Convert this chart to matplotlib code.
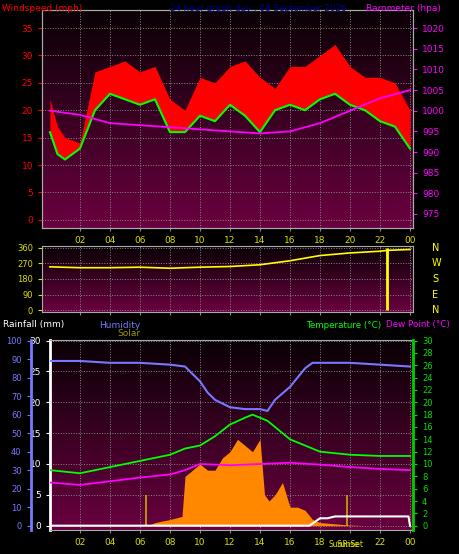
import numpy as np
import matplotlib
matplotlib.use('Agg')
import matplotlib.pyplot as plt

# ---- data ----
hours = [0, 0.5, 1, 2, 3, 4, 5, 6, 7, 8, 9, 10, 11, 12, 13, 14, 15, 16, 17, 18, 19, 20, 21, 22, 23, 24]
wind_gust = [22, 17, 15, 14, 27, 28, 29, 27, 28, 22, 20, 26, 25, 28, 29, 26, 24, 28, 28, 30, 32, 28, 26, 26, 25, 20]
wind_avg = [16, 12, 11, 13, 20, 23, 22, 21, 22, 16, 16, 19, 18, 21, 19, 16, 20, 21, 20, 22, 23, 21, 20, 18, 17, 13]
baro_hours = [0, 2, 4, 6, 8, 10, 12, 14, 16, 18, 20, 22, 24]
baro = [1000, 999, 997, 996.5, 996, 995.5, 995, 994.5, 995, 997, 1000, 1003, 1005]

dir_hours = [0, 2, 4, 6, 8, 10, 12, 14, 16, 18, 20, 22, 22.5, 24]
wind_dir = [250, 245, 245, 248, 242, 248, 252, 262, 285, 315, 330, 340, 345, 350]

hum_hours = [0, 2, 4, 6, 8, 9, 10, 10.5, 11, 12, 13, 14, 14.5, 15, 16, 17, 17.5, 18, 20, 22, 24]
humidity = [89, 89, 88, 88, 87, 86, 78, 72, 68, 64, 63, 63, 62, 68, 75, 85, 88, 88, 88, 87, 86]
temp_hours = [0, 2, 4, 6, 8, 9, 10, 11, 12, 13, 13.5, 14.5, 15, 16, 17, 18, 20, 22, 24]
temperature = [9, 8.5, 9.5, 10.5, 11.5, 12.5, 13, 14.5, 16.4, 17.5, 18, 17, 16, 14, 13, 12, 11.5, 11.3, 11.3]
dew_hours = [0, 2, 4, 6, 8, 9, 10, 12, 14, 16, 18, 20, 22, 24]
dewpoint = [7, 6.6, 7.2, 7.8, 8.3, 9, 10, 9.8, 10, 10.2, 9.9, 9.5, 9.2, 9]
solar_hours = [6.5, 7, 8, 8.8, 9, 9.5, 10, 10.5, 11, 11.5, 12, 12.5, 13, 13.5, 14, 14.3, 14.6, 15, 15.5, 16, 16.5, 17, 17.5, 18, 19, 20, 21]
solar = [0, 0.5, 1, 1.5, 8, 9, 10, 9, 9, 11, 12, 14, 13, 12, 14, 5, 4, 5, 7, 3, 3, 2.5, 1, 0.5, 0.3, 0.1, 0]
rain_hours = [0, 17.3, 18, 18.5, 19, 23.9, 24]
rainfall = [0, 0, 1.2, 1.2, 1.5, 1.5, 0]

xticks = [2, 4, 6, 8, 10, 12, 14, 16, 18, 20, 22, 24]
xlabels = ['02', '04', '06', '08', '10', '12', '14', '16', '18', '20', '22', '00']

BG = '#000000'
fig = plt.figure(figsize=(4.6, 5.54), dpi=100, facecolor=BG)
plt.rcParams['font.family'] = 'DejaVu Sans'
fs = 6.5
grad = matplotlib.colors.LinearSegmentedColormap.from_list('g', ['#0a0005', '#6a0040'])


def panel(rect, xl, yl):
    ax = fig.add_axes(rect)
    ax.imshow(np.linspace(0, 1, 100)[:, None], aspect='auto', cmap=grad,
              extent=[xl[0], xl[1], yl[0], yl[1]], zorder=0)
    ax.set_xlim(*xl); ax.set_ylim(*yl)
    ax.grid(color='#888888', ls=':', lw=0.7)
    for s in ax.spines.values():
        s.set_color('#aaaaaa')
    ax.set_xticks(xticks); ax.set_xticklabels(xlabels, fontsize=fs)
    ax.tick_params(axis='x', colors='#888888', labelcolor='#dddd00', length=2)
    return ax


# ---- top panel ----
ax1 = panel([42/460, 1-228/554, 371/460, 218/554], (-0.53, 24.2), (-1.5, 38.3))
ax1.set_yticks(range(0, 36, 5))
ax1.tick_params(axis='y', colors='red', labelsize=fs, length=3)
ax1.fill_between(hours, wind_avg, wind_gust, color='red', zorder=2, lw=0)
ax1.plot(hours, wind_avg, color='#00ff00', lw=1.5, zorder=3)
ax1b = ax1.twinx()
ax1b.set_ylim(971.6, 1024.4)
ax1b.set_yticks(range(975, 1021, 5))
ax1b.tick_params(axis='y', colors='#ff00ff', labelsize=fs, length=3)
ax1b.plot(baro_hours, baro, color='#ff00ff', lw=1.3)
for s in ax1b.spines.values():
    s.set_color('#aaaaaa')
fig.text(0.005, 0.993, 'Windspeed (mph)', color='red', fontsize=6.5, va='top')
fig.text(0.37, 0.993, '24 hour graph day : 08 September 2026', color='#000090', fontsize=6.3, va='top')
fig.text(0.795, 0.993, 'Barometer (hpa)', color='#ff00ff', fontsize=6.5, va='top')

# ---- middle panel: wind direction ----
ax2 = panel([42/460, 1-312/554, 371/460, 66/554], (-0.53, 24.2), (-10, 370))
ax2.set_xticklabels([])
ax2.set_yticks(range(0, 361, 90))
ax2.tick_params(axis='y', colors='#dddd00', labelsize=fs - 0.5, length=3)
ax2.plot(dir_hours, wind_dir, color='yellow', lw=1.2)
ax2.vlines(22.5, 0, 360, color='yellow', lw=2)
for v, c in zip([360, 270, 180, 90, 0], 'NWSEN'):
    fig.text(432/460, ax2.transData.transform((0, v))[1] / 554, c, color='yellow', fontsize=7, va='center')

# ---- bottom panel ----
ax3 = panel([50/460, 1-530/554, 363/460, 190/554], (0, 24.2), (-0.7, 30.1))
ax3.set_xticklabels([l if l != '20' else '' for l in xlabels], fontsize=fs)
ax3.spines['left'].set_color('white'); ax3.spines['left'].set_linewidth(2)
ax3.set_yticks([0, 5, 10, 15, 20, 25, 30])
ax3.tick_params(axis='y', colors='white', labelsize=fs, length=3)
ax3.fill_between(solar_hours, 0, solar, color='#ff8800', zorder=2, lw=0)
ax3.plot(rain_hours, rainfall, color='white', lw=1.5, zorder=4)
ax3.vlines([6.4, 19.8], 0, 5, color='#ccaa00', lw=1.2, zorder=3)
ax3.text(19.6, -2.3, 'SunRise', color='#dddd00', fontsize=5.5, ha='center', va='top')
ax3.text(20.0, -2.3, 'SunSet', color='#dddd00', fontsize=5.5, ha='center', va='top')
ax3.plot(hum_hours, np.array(humidity) * 0.3, color='#7777ff', lw=1.5, zorder=3)
ax3.plot(temp_hours, temperature, color='#00ff00', lw=1.3, zorder=3)
ax3.plot(dew_hours, dewpoint, color='#ff00ff', lw=1.3, zorder=3)

ax3r = ax3.twinx()
ax3r.set_ylim(-0.7, 30.1)
ax3r.set_yticks(range(0, 31, 2))
ax3r.tick_params(axis='y', colors='#00dd00', labelsize=fs - 0.5, length=3)
for s in ax3r.spines.values():
    s.set_visible(False)
ax3r.spines['right'].set_visible(True); ax3r.spines['right'].set_color('#00cc00'); ax3r.spines['right'].set_linewidth(2)

ax3h = ax3.twinx()
ax3h.set_ylim(-0.7 / 0.3, 30.1 / 0.3)
ax3h.yaxis.set_ticks_position('left'); ax3h.yaxis.set_label_position('left')
for s in ax3h.spines.values():
    s.set_visible(False)
ax3h.spines['left'].set_visible(True)
ax3h.spines['left'].set_position(('outward', 14))
ax3h.spines['left'].set_color('#7777ff'); ax3h.spines['left'].set_linewidth(2)
ax3h.set_yticks(range(0, 101, 10))
ax3h.tick_params(axis='y', colors='#7777ff', labelsize=fs - 0.5, length=3)

fig.text(0.006, 1-325/554, 'Rainfall (mm)', color='white', fontsize=6.5, va='center')
fig.text(0.215, 1-325/554, 'Humidity', color='#7777ff', fontsize=6.5, va='center')
fig.text(0.255, 1-333/554, 'Solar', color='#999900', fontsize=6.5, va='center')
fig.text(0.665, 1-325/554, 'Temperature (°C)', color='#00ff00', fontsize=6.3, va='center')
fig.text(0.84, 1-325/554, 'Dew Point (°C)', color='#ff00ff', fontsize=6.3, va='center')

fig.savefig('out.png', dpi=100, facecolor=BG)
